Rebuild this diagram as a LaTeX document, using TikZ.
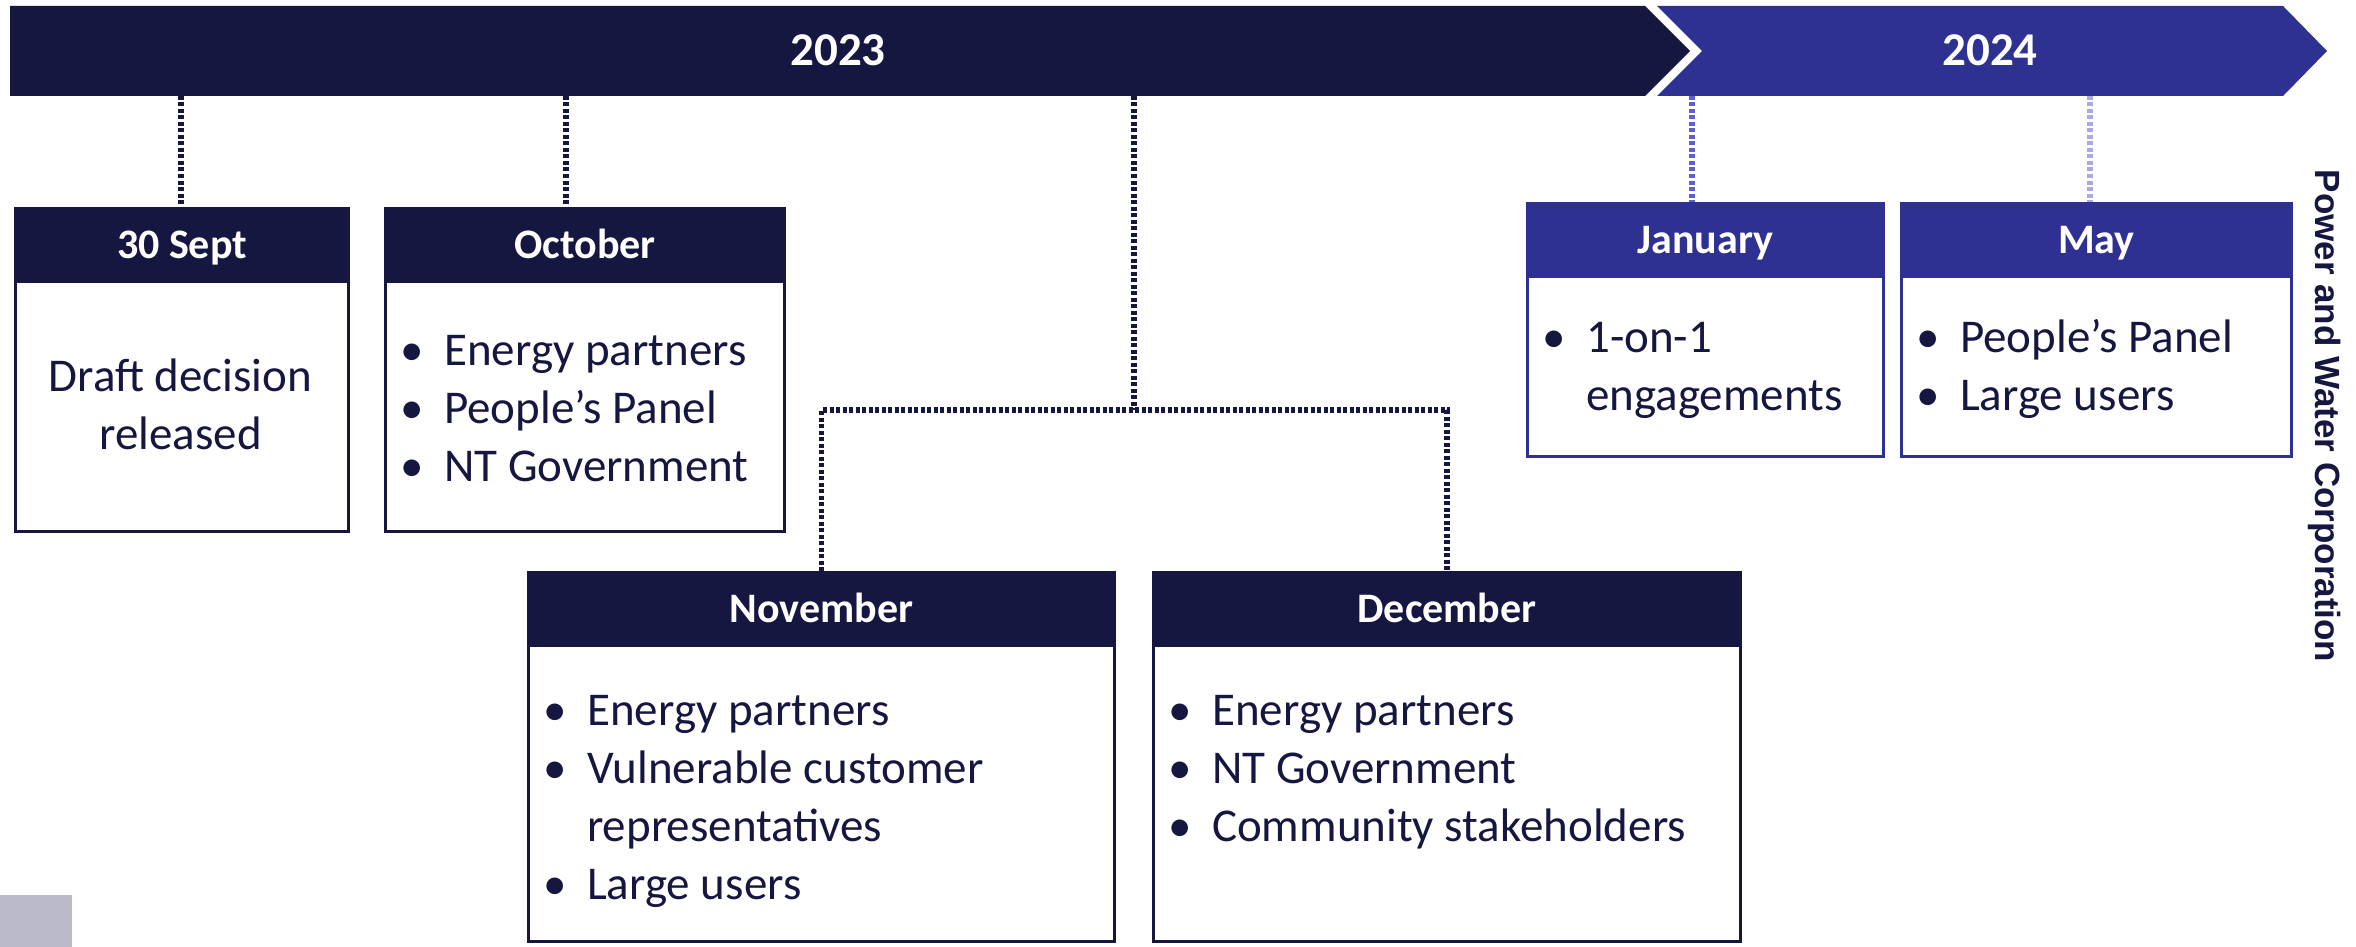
\documentclass[tikz,border=0pt]{standalone}
\usepackage{fontspec}
\setmainfont{Carlito}
\newfontfamily\pwcfont{Liberation Sans}
\definecolor{navy}{RGB}{22,23,65}
\definecolor{royal}{RGB}{46,49,146}
\definecolor{janline}{RGB}{92,96,208}
\definecolor{mayline}{RGB}{168,170,230}
\definecolor{graysq}{RGB}{186,186,200}
\newcommand\bul{\makebox[48pt][l]{\makebox[32pt][c]{\textbullet}}}
\newcommand\firstln{\rule{0pt}{40pt}}
\begin{document}
\begin{tikzpicture}[x=1pt,y=-1pt,
  hdr/.style={rectangle, anchor=north west, inner sep=0pt, line width=3pt,
    font=\bfseries\fontsize{42}{50}\selectfont, text=white, text height=27pt, text depth=0pt},
  navyhdr/.style={hdr, draw=navy, fill=navy},
  bluehdr/.style={hdr, draw=royal, fill=royal},
  bodybox/.style={rectangle, anchor=north west, inner sep=0pt, line width=3pt, fill=white},
  txt/.style={anchor=north west, inner sep=0pt, align=left, text=navy,
    font=\fontsize{47}{58}\selectfont},
  conn/.style={line width=5.5pt, dash pattern=on 4pt off 2.5pt},
  yeartxt/.style={font=\bfseries\fontsize{47}{56}\selectfont, text=white,
    text height=30pt, text depth=0pt, inner sep=0pt}
]
\useasboundingbox (0,0) rectangle (2356,947);
\fill[white] (0,0) rectangle (2356,947);

% timeline bars
\fill[navy] (10,6) -- (1645,6) -- (1690,51) -- (1645,96) -- (10,96) -- cycle;
\fill[royal] (1657,6) -- (2283,6) -- (2327,51) -- (2283,96) -- (1657,96) -- (1702,51) -- cycle;
\node[yeartxt] (y23) at (838,51) {2023};
\node[yeartxt] (y24) at (1990,51) {2024};

% anchor points on the bar
\coordinate (b1) at (181,96);
\coordinate (b2) at (566,96);
\coordinate (b3) at (1134,96);
\coordinate (j3) at (1134,410);
\coordinate (b4) at (1692,96);
\coordinate (b5) at (2090,96);

% boxes
\node[navyhdr, minimum width=333pt, minimum height=73pt] (sepH) at (14,207) {30 Sept};
\node[bodybox, draw=navy, minimum width=333pt, minimum height=250pt] (sepB) at (14,280) {};
\node[navyhdr, minimum width=399pt, minimum height=73pt] (octH) at (384,207) {October};
\node[bodybox, draw=navy, minimum width=399pt, minimum height=250pt] (octB) at (384,280) {};
\node[navyhdr, minimum width=586pt, minimum height=73pt] (novH) at (527,571) {November};
\node[bodybox, draw=navy, minimum width=586pt, minimum height=296pt] (novB) at (527,644) {};
\node[navyhdr, minimum width=587pt, minimum height=73pt] (decH) at (1152,571) {December};
\node[bodybox, draw=navy, minimum width=587pt, minimum height=296pt] (decB) at (1152,644) {};
\node[bluehdr, minimum width=356pt, minimum height=73pt] (janH) at (1526,202) {January};
\node[bodybox, draw=royal, minimum width=356pt, minimum height=180pt] (janB) at (1526,275) {};
\node[bluehdr, minimum width=390pt, minimum height=73pt] (mayH) at (1900,202) {May};
\node[bodybox, draw=royal, minimum width=390pt, minimum height=180pt] (mayB) at (1900,275) {};

% connectors
\draw[conn, navy] (b1) -- (b1 |- sepH.north);
\draw[conn, navy] (b2) -- (b2 |- octH.north);
\draw[conn, navy] (b3) -- (j3);
\draw[conn, navy] (novH.north) -- (novH.north |- j3) -- (decH.north |- j3) -- (decH.north);
\draw[conn, janline] (b4) -- (b4 |- janH.north);
\draw[conn, mayline] (b5) -- (b5 |- mayH.north);

% box texts
\node[txt, align=center, anchor=north] (sepT) at (180.5,351) {\firstln Draft decision\\released};
\node[txt] (octT) at (396,325) {\firstln\bul Energy partners\\\bul People’s Panel\\\bul NT Government};
\node[txt] (novT) at (539,685) {\firstln\bul Energy partners\\\bul Vulnerable customer\\\hspace*{48pt}representatives\\\bul Large users};
\node[txt] (decT) at (1164,685) {\firstln\bul Energy partners\\\bul NT Government\\\bul Community stakeholders};
\node[txt] (janT) at (1538,312) {\firstln\bul 1-on-1\\\hspace*{48pt}engagements};
\node[txt] (mayT) at (1912,312) {\firstln\bul People’s Panel\\\bul Large users};

% side label
\node[rotate=-90, inner sep=0pt, text=navy, font=\pwcfont\bfseries\fontsize{35}{40}\selectfont] (pwc) at (2325,416) {Power and Water Corporation};

% grey square
\fill[graysq] (0,895) rectangle (72,947);
\end{tikzpicture}
\end{document}
